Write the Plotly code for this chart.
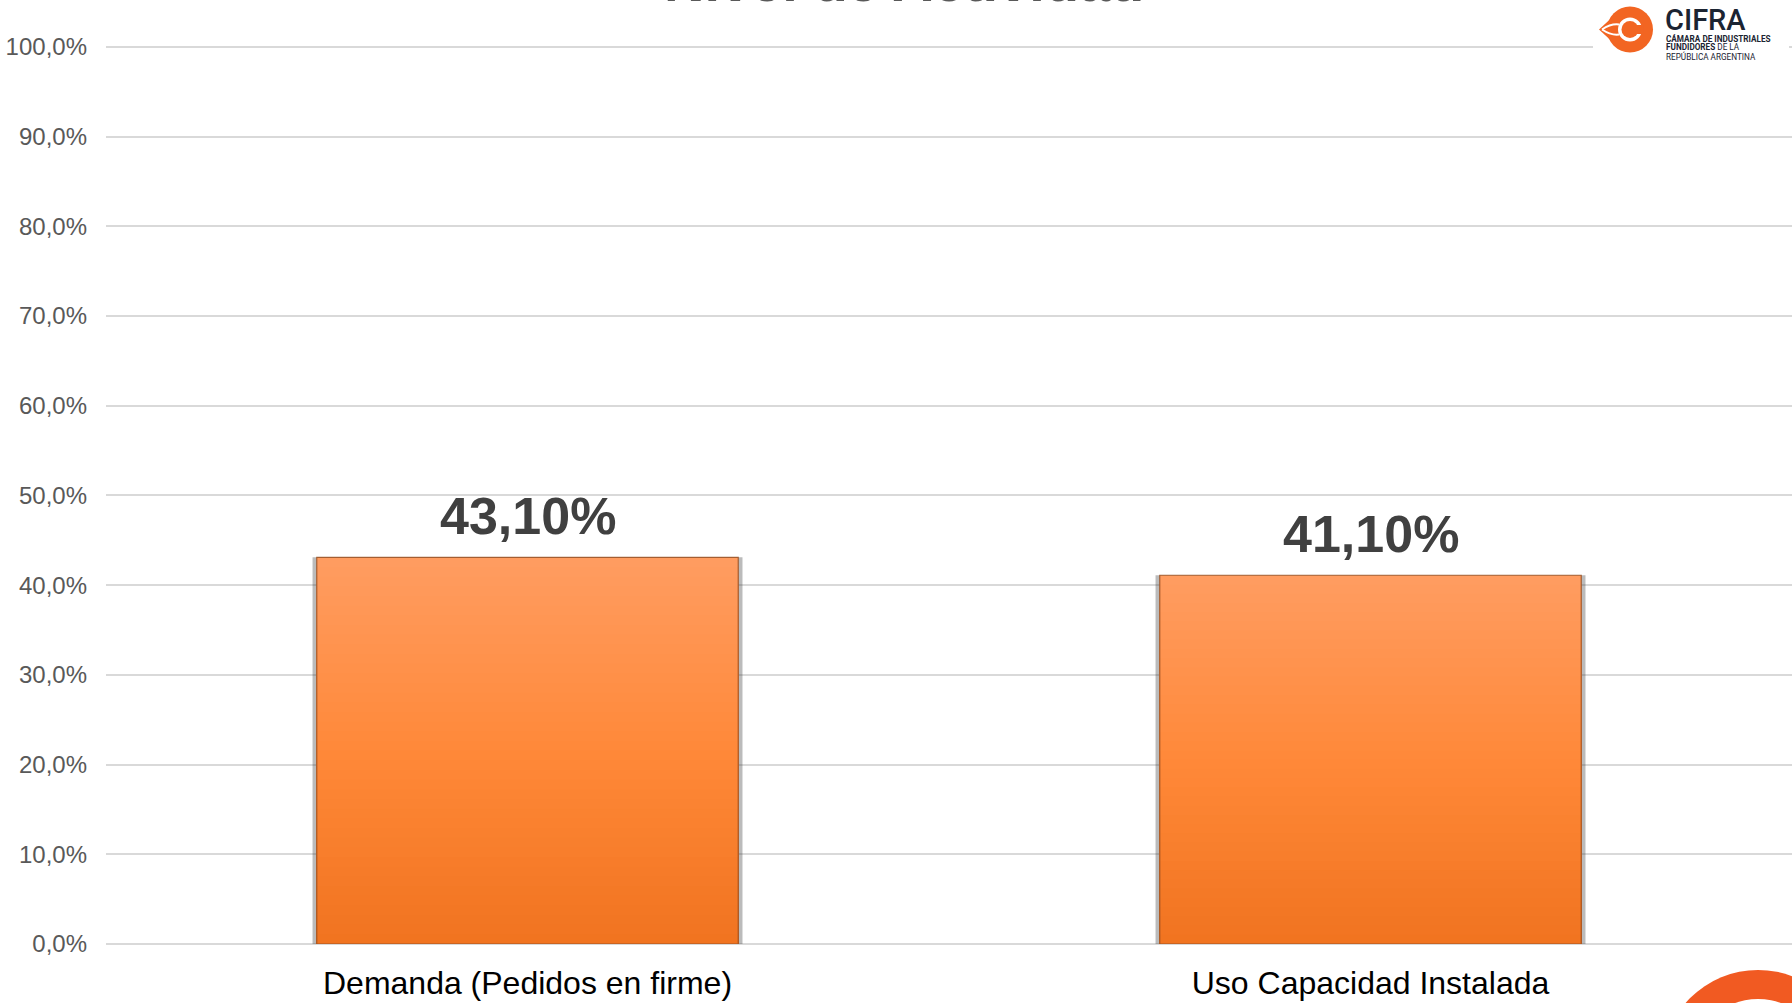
import plotly.graph_objects as go

categories = ['Demanda (Pedidos en firme)', 'Uso Capacidad Instalada']
values = [43.1, 41.1]
y_ticks = [0, 10, 20, 30, 40, 50, 60, 70, 80, 90, 100]
y_tick_labels = ['0,0%', '10,0%', '20,0%', '30,0%', '40,0%', '50,0%',
                 '60,0%', '70,0%', '80,0%', '90,0%', '100,0%']
title_text = 'Nivel de Actividad'

W, H = 1792, 1003
M_L, M_R, M_T, M_B = 106, 0, 45, 59
PW, PH = W - M_L - M_R, H - M_T - M_B

FONT = 'Arial, Liberation Sans, sans-serif'
ORANGE_LOGO = '#F26522'


def px_x(px):
    return (px - M_L) / PW


def px_y(py):
    return (H - M_B - py) / PH


def hex_rgb(h):
    h = h.lstrip('#')
    return tuple(int(h[i:i + 2], 16) for i in (0, 2, 4))


def mix(c1, c2, t):
    a, b = hex_rgb(c1), hex_rgb(c2)
    return 'rgb(%d,%d,%d)' % tuple(round(a[i] + (b[i] - a[i]) * t) for i in range(3))


# vertical gradient: top -> middle -> bottom
TOP, MID, BOT = '#FF9C60', '#FF8838', '#F0731F'
N = 40

fig = go.Figure()

# soft shadow behind the bars
fig.add_trace(go.Bar(
    x=categories, y=values, width=0.51,
    marker=dict(color='rgba(60,60,60,0.35)', line=dict(width=0)),
    hoverinfo='skip'
))

# gradient built from overlaid bars, each a bit shorter and darker
for k in range(N):
    frac = k / N
    t = frac / 0.5 if frac < 0.5 else (frac - 0.5) / 0.5
    col = mix(TOP, MID, t) if frac < 0.5 else mix(MID, BOT, t)
    fig.add_trace(go.Bar(
        x=categories, y=[v * (1 - frac) for v in values], width=0.5,
        marker=dict(color=col, line=dict(width=0)),
        hoverinfo='skip' if k else 'y'
    ))

# thin outline
fig.add_trace(go.Bar(
    x=categories, y=values, width=0.5,
    marker=dict(color='rgba(0,0,0,0)', line=dict(width=1.2, color='rgba(150,80,35,0.85)')),
    hoverinfo='skip'
))

# value labels
for c, v in zip(categories, values):
    fig.add_annotation(
        x=c, y=v, xref='x', yref='y', yanchor='bottom', yshift=10,
        text=f'{v:.2f}'.replace('.', ',') + '%', showarrow=False,
        font=dict(family=FONT, size=52, color='#404040', weight='bold')
    )

# title, partly cut off at the top like the source
fig.add_annotation(
    x=px_x(904), y=px_y(47), xref='paper', yref='paper', yanchor='bottom', yshift=32,
    text=title_text, showarrow=False,
    font=dict(family=FONT, size=56, color='#595959', weight='bold')
)


def logo_shape(**kw):
    d = dict(xref='paper', yref='paper', layer='above',
             xsizemode='pixel', ysizemode='pixel', xanchor=cx, yanchor=cy)
    d.update(kw)
    return d


# CIFRA logo (top right)
shapes = [
    dict(type='rect', xref='paper', yref='paper', layer='above',
         x0=px_x(1593), x1=px_x(1789), y0=px_y(66), y1=px_y(-2),
         fillcolor='white', line=dict(width=0)),
]
cx, cy = px_x(1630), px_y(29.5)
shapes.append(logo_shape(type='circle', x0=-23, x1=23, y0=-23, y1=23,
                         fillcolor=ORANGE_LOGO, line=dict(width=0)))
shapes.append(logo_shape(type='path', path='M -31,0 L -18,-12 L -18,12 Z',
                         fillcolor=ORANGE_LOGO, line=dict(width=0)))
shapes.append(logo_shape(type='circle', x0=-12, x1=12, y0=-12, y1=12,
                         fillcolor='white', line=dict(width=0)))
shapes.append(logo_shape(type='circle', x0=-8.5, x1=8.5, y0=-8.5, y1=8.5,
                         fillcolor=ORANGE_LOGO, line=dict(width=0)))
shapes.append(logo_shape(type='rect', x0=5, x1=13.5, y0=-4.5, y1=4.5,
                         fillcolor=ORANGE_LOGO, line=dict(width=0)))
shapes.append(logo_shape(type='path', path='M -28,0 Q -19,6 -11,5',
                         line=dict(width=2, color='white')))
shapes.append(logo_shape(type='path', path='M -28,0 Q -19,-6 -11,-5',
                         line=dict(width=2, color='white')))

# orange ring in the bottom right corner
cx, cy = px_x(1758), px_y(1066)
for r, col in [(96, '#F15A22'), (67, 'white')]:
    shapes.append(logo_shape(type='circle', x0=-r, x1=r, y0=-r, y1=r,
                             fillcolor=col, line=dict(width=0)))

fig.add_annotation(
    x=px_x(1663), y=px_y(19.5), xref='paper', yref='paper', xanchor='left', yanchor='middle',
    text='CIFRA', showarrow=False,
    font=dict(family='Roboto, sans-serif', size=29, color='#1B2432', weight=500)
)
for line_txt, py in [('<b>CÁMARA DE INDUSTRIALES</b>', 38.5),
                     ('<b>FUNDIDORES</b> DE LA', 47.5),
                     ('REPÚBLICA ARGENTINA', 56.5)]:
    fig.add_annotation(
        x=px_x(1664), y=px_y(py), xref='paper', yref='paper', xanchor='left', yanchor='middle',
        text=line_txt, showarrow=False,
        font=dict(family='Roboto, sans-serif', size=8.2, color='#1B2432')
    )

fig.update_layout(
    width=W, height=H,
    margin=dict(l=M_L, r=M_R, t=M_T, b=M_B),
    barmode='overlay',
    showlegend=False,
    paper_bgcolor='white',
    plot_bgcolor='white',
    shapes=shapes,
    xaxis=dict(
        showgrid=False, showline=False, zeroline=False,
        tickfont=dict(family=FONT, size=32, color='#000000'),
        ticklabelstandoff=17,
    ),
    yaxis=dict(
        range=[0, 100.2], tickvals=y_ticks, ticktext=y_tick_labels,
        showgrid=True, gridcolor='#D9D9D9', gridwidth=1.5,
        zeroline=True, zerolinecolor='#D9D9D9', zerolinewidth=2,
        showline=False,
        tickfont=dict(family=FONT, size=24, color='#595959'),
        ticklabelstandoff=18,
    ),
)

fig.write_html("out.html", config={'displayModeBar': False},
               post_script="document.body.style.margin='0';")
